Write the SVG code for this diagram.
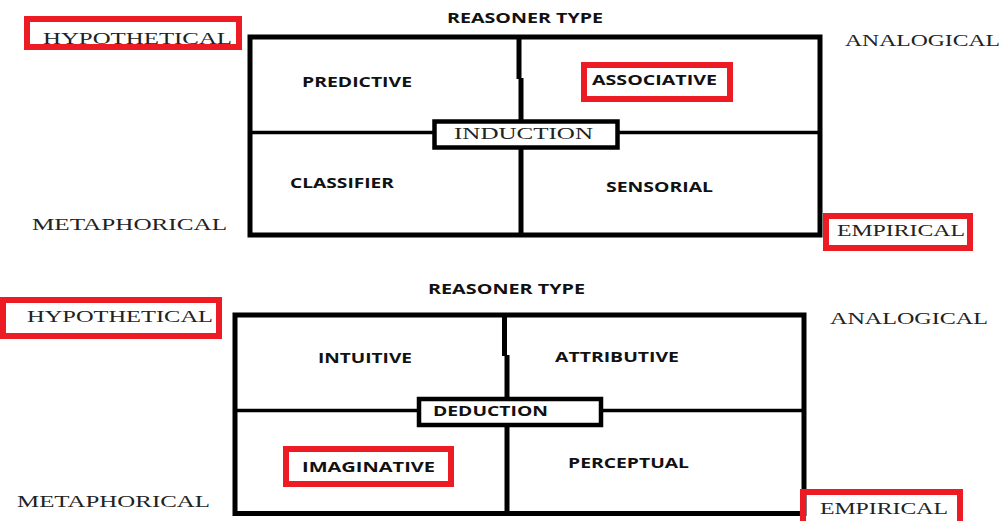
<svg xmlns="http://www.w3.org/2000/svg" width="1004" height="521" viewBox="0 0 1004 521">
<style>
.frame{fill:none;stroke:#000;stroke-width:5}
.div{fill:none;stroke:#000;stroke-width:5}
.hdiv{fill:none;stroke:#000;stroke-width:3.5}
.cbox{fill:#fff;stroke:#000;stroke-width:4.5}
.red{fill:none;stroke:#ed1c24;stroke-width:6}
.sans{font-family:"Open Sans","Liberation Sans",sans-serif;font-weight:700;font-size:14.5px;fill:#111}
.serif{font-family:"Liberation Serif","Times New Roman",serif;font-size:17px;fill:#222}
</style>
<rect width="1004" height="521" fill="#fff"/>

<!-- Top panel -->
<g id="top-frame">
<rect class="frame" x="250" y="37" width="570" height="198"/>
</g>
<g id="top-connectors">
<line class="div" x1="519" y1="37" x2="519" y2="79"/>
<line class="div" x1="521" y1="78" x2="521" y2="121"/>
<line class="div" x1="521" y1="148" x2="521" y2="235"/>
<line class="hdiv" x1="250" y1="132.5" x2="434" y2="132.5"/>
<line class="hdiv" x1="618" y1="132.5" x2="820" y2="132.5"/>
</g>
<g id="top-title"><text class="sans" x="447" y="23" textLength="156" lengthAdjust="spacingAndGlyphs">REASONER TYPE</text></g>
<g id="induction">
<rect class="cbox" x="434.5" y="121.5" width="183" height="26"/>
<text class="serif" x="454" y="139" textLength="139" lengthAdjust="spacingAndGlyphs">INDUCTION</text>
</g>
<g id="predictive"><text class="sans" x="302" y="87" textLength="110" lengthAdjust="spacingAndGlyphs">PREDICTIVE</text></g>
<g id="associative">
<rect class="red" x="584" y="65" width="146" height="34"/>
<text class="sans" x="592" y="85" textLength="125" lengthAdjust="spacingAndGlyphs">ASSOCIATIVE</text>
</g>
<g id="classifier"><text class="sans" x="290" y="188" textLength="104" lengthAdjust="spacingAndGlyphs">CLASSIFIER</text></g>
<g id="sensorial"><text class="sans" x="606" y="192" textLength="107" lengthAdjust="spacingAndGlyphs">SENSORIAL</text></g>
<g id="top-hypothetical">
<rect class="red" x="27" y="19" width="212" height="28"/>
<text class="serif" x="43" y="44" textLength="189" lengthAdjust="spacingAndGlyphs">HYPOTHETICAL</text>
</g>
<g id="top-metaphorical"><text class="serif" x="32" y="230" textLength="195" lengthAdjust="spacingAndGlyphs">METAPHORICAL</text></g>
<g id="top-analogical"><text class="serif" x="845" y="46" textLength="155" lengthAdjust="spacingAndGlyphs">ANALOGICAL</text></g>
<g id="top-empirical">
<rect class="red" x="826" y="216" width="144" height="32"/>
<text class="serif" x="837" y="236" textLength="128" lengthAdjust="spacingAndGlyphs">EMPIRICAL</text>
</g>

<!-- Bottom panel -->
<g id="bottom-frame">
<rect class="frame" x="235" y="315" width="569" height="198.5"/>
</g>
<g id="bottom-connectors">
<line class="div" x1="504.5" y1="315" x2="504.5" y2="356"/>
<line class="div" x1="507" y1="355" x2="507" y2="399"/>
<line class="div" x1="507" y1="425" x2="507" y2="513.5"/>
<line class="hdiv" x1="235" y1="410.5" x2="419" y2="410.5"/>
<line class="hdiv" x1="601" y1="410.5" x2="804" y2="410.5"/>
</g>
<g id="bottom-title"><text class="sans" x="428" y="294" textLength="157" lengthAdjust="spacingAndGlyphs">REASONER TYPE</text></g>
<g id="deduction">
<rect class="cbox" x="419" y="399" width="182" height="26"/>
<text class="sans" x="433" y="416" textLength="115" lengthAdjust="spacingAndGlyphs">DEDUCTION</text>
</g>
<g id="intuitive"><text class="sans" x="318" y="363" textLength="94" lengthAdjust="spacingAndGlyphs">INTUITIVE</text></g>
<g id="attributive"><text class="sans" x="555" y="362" textLength="124" lengthAdjust="spacingAndGlyphs">ATTRIBUTIVE</text></g>
<g id="imaginative">
<rect class="red" x="286" y="449" width="165" height="35"/>
<text class="sans" x="302" y="472" textLength="133" lengthAdjust="spacingAndGlyphs">IMAGINATIVE</text>
</g>
<g id="perceptual"><text class="sans" x="568" y="468" textLength="121" lengthAdjust="spacingAndGlyphs">PERCEPTUAL</text></g>
<g id="bottom-hypothetical">
<rect class="red" x="3" y="300" width="216" height="36"/>
<text class="serif" x="27" y="322" textLength="186" lengthAdjust="spacingAndGlyphs">HYPOTHETICAL</text>
</g>
<g id="bottom-metaphorical"><text class="serif" x="17" y="507" textLength="193" lengthAdjust="spacingAndGlyphs">METAPHORICAL</text></g>
<g id="bottom-analogical"><text class="serif" x="830" y="324" textLength="158" lengthAdjust="spacingAndGlyphs">ANALOGICAL</text></g>
<g id="bottom-empirical">
<rect class="red" x="803" y="492" width="157" height="40"/>
<text class="serif" x="820" y="514" textLength="128" lengthAdjust="spacingAndGlyphs">EMPIRICAL</text>
</g>
</svg>
